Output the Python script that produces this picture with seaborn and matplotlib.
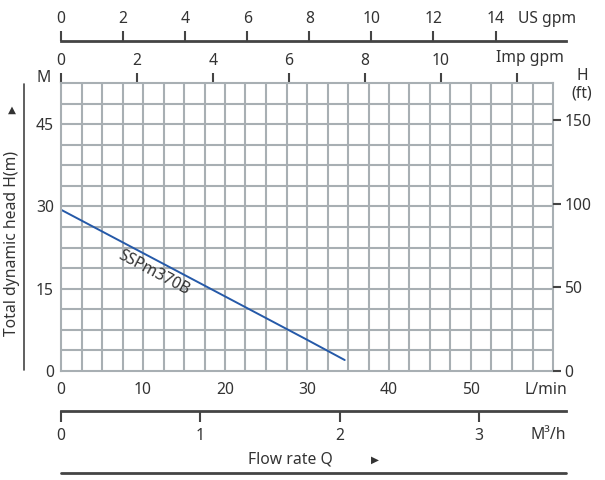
import numpy as np
import matplotlib
matplotlib.use("Agg")
import matplotlib.pyplot as plt
from matplotlib.lines import Line2D
from matplotlib.ticker import FixedLocator
import seaborn as sns

# pump curve (L/min vs m)
flow_lpm = [0, 10, 20, 30, 34.6]
head_m = [29.4, 21.5, 13.6, 5.7, 2.0]
model_name = "SSPm370B"

# axis ticks
lpm_ticks = [0, 10, 20, 30, 40, 50]
m_ticks = [0, 15, 30, 45]
ft_ticks = [0, 50, 100, 150]
imp_ticks = [0, 2, 4, 6, 8, 10, 12]
imp_labels = ["0", "2", "4", "6", "8", "10", ""]
us_ticks = [0, 2, 4, 6, 8, 10, 12, 14]
m3h_ticks = [0, 1, 2, 3]

# unit conversions
M_TO_FT = 3.281
LPM_PER_USGPM = 3.785
LPM_PER_IMPGPM = 4.63
LPM_PER_M3H = 17.0

sns.set_style("white")
plt.rcParams["font.family"] = ["Noto Sans", "DejaVu Sans"]
TXT = "#333333"
DARK = "#444444"
GRID = "#a8afb3"
FS = 11.3

W, H = 605, 480
fig = plt.figure(figsize=(W / 100, H / 100), dpi=100)


def fx(px):
    return px / W


def fy(py):
    return 1 - py / H


x0, x1 = 61, 553
y0, y1 = 83, 371
xmax, ymax = 60, 52.5
ext = 566  # right end of the outer scales
lpm_ext = xmax * (ext - x0) / (x1 - x0)

ax = fig.add_axes([fx(x0), fy(y1), fx(x1 - x0), (y1 - y0) / H])
# grid cells
for gx in np.arange(2.5, xmax, 2.5):
    ax.axvline(gx, color=GRID, lw=1.5, zorder=0)
for gy in np.arange(3.75, ymax, 3.75):
    ax.axhline(gy, color=GRID, lw=1.5, zorder=0)
sns.lineplot(x=flow_lpm, y=head_m, ax=ax, color="#2559a8", linewidth=1.4)
ax.set_xlim(0, xmax)
ax.set_ylim(0, ymax)
for s in ax.spines.values():
    s.set_color(GRID)
    s.set_linewidth(1.5)
ax.set_xticks(lpm_ticks)
ax.set_yticks(m_ticks)
ax.tick_params(which="both", length=0, labelsize=FS, labelcolor=TXT)
ax.tick_params(axis="x", pad=8)
ax.tick_params(axis="y", pad=5)
ax.text(11.3, 17.9, model_name, rotation=-28, ha="center", va="center",
        fontsize=FS, color=TXT)

# Imp gpm on top of the grid
top = ax.secondary_xaxis("top", functions=(lambda v: v / LPM_PER_IMPGPM,
                                           lambda v: v * LPM_PER_IMPGPM))
top.xaxis.set_major_locator(FixedLocator(imp_ticks))
top.set_xticklabels(imp_labels)
top.spines["top"].set_visible(False)
top.tick_params(top=True, length=7, width=1.5, color=DARK, pad=3,
                labelsize=FS, labelcolor=TXT)

# ft on the right
axr = ax.twinx()
axr.set_ylim(0, ymax * M_TO_FT)
axr.set_yticks(ft_ticks)
for s in axr.spines.values():
    s.set_visible(False)
axr.tick_params(right=True, length=6, width=1.5, color=DARK, pad=2,
                labelsize=FS, labelcolor=TXT)

# US gpm scale
axu = fig.add_axes([fx(x0), fy(41), fx(ext - x0), 0.0001])
axu.set_xlim(0, lpm_ext / LPM_PER_USGPM)
axu.set_xticks(us_ticks)
axu.xaxis.tick_top()
axu.set_yticks([])
for k in ["left", "right", "bottom"]:
    axu.spines[k].set_visible(False)
axu.spines["top"].set_color(DARK)
axu.spines["top"].set_linewidth(2)
axu.set_facecolor("none")
axu.tick_params(top=True, bottom=False, length=7, width=1.5, color=DARK,
                pad=3, labelsize=FS, labelcolor=TXT)

# m3/h scale
axm = fig.add_axes([fx(x0), fy(411), fx(ext - x0), 0.0001])
axm.set_xlim(0, lpm_ext / LPM_PER_M3H)
axm.set_xticks(m3h_ticks)
axm.set_yticks([])
for k in ["left", "right", "top"]:
    axm.spines[k].set_visible(False)
axm.spines["bottom"].set_color(DARK)
axm.spines["bottom"].set_linewidth(2)
axm.set_facecolor("none")
axm.tick_params(bottom=True, length=8, width=1.5, color=DARK, pad=4,
                labelsize=FS, labelcolor=TXT)

# bottom line and left line
fig.add_artist(Line2D([fx(x0), fx(ext)], [fy(473), fy(473)], color=DARK, lw=2))
fig.add_artist(Line2D([fx(24), fx(24)], [fy(84), fy(370)], color=DARK, lw=1.2))

# unit labels
kw = dict(fontsize=FS, color=TXT, ha="center", va="center")
fig.text(fx(547), fy(19), "US gpm", **kw)
fig.text(fx(530), fy(58), "Imp gpm", **kw)
fig.text(fx(546), fy(390), "L/min", **kw)
fig.text(fx(548), fy(435), "M³/h", **kw)
fig.text(fx(582), fy(76), "H", **kw)
fig.text(fx(582), fy(94), "(ft)", **kw)
fig.text(fx(44), fy(78), "M", **kw)
fig.text(fx(290), fy(460), "Flow rate Q", **kw)
fig.text(fx(375), fy(460), "▶", fontsize=7.5, color=TXT, ha="center", va="center")
fig.text(fx(12), fy(110), "▲", fontsize=7.5, color=TXT, ha="center", va="center")
fig.text(fx(12), fy(243), "Total dynamic head H(m)", rotation=90, **kw)

fig.savefig("out.png", dpi=100)
